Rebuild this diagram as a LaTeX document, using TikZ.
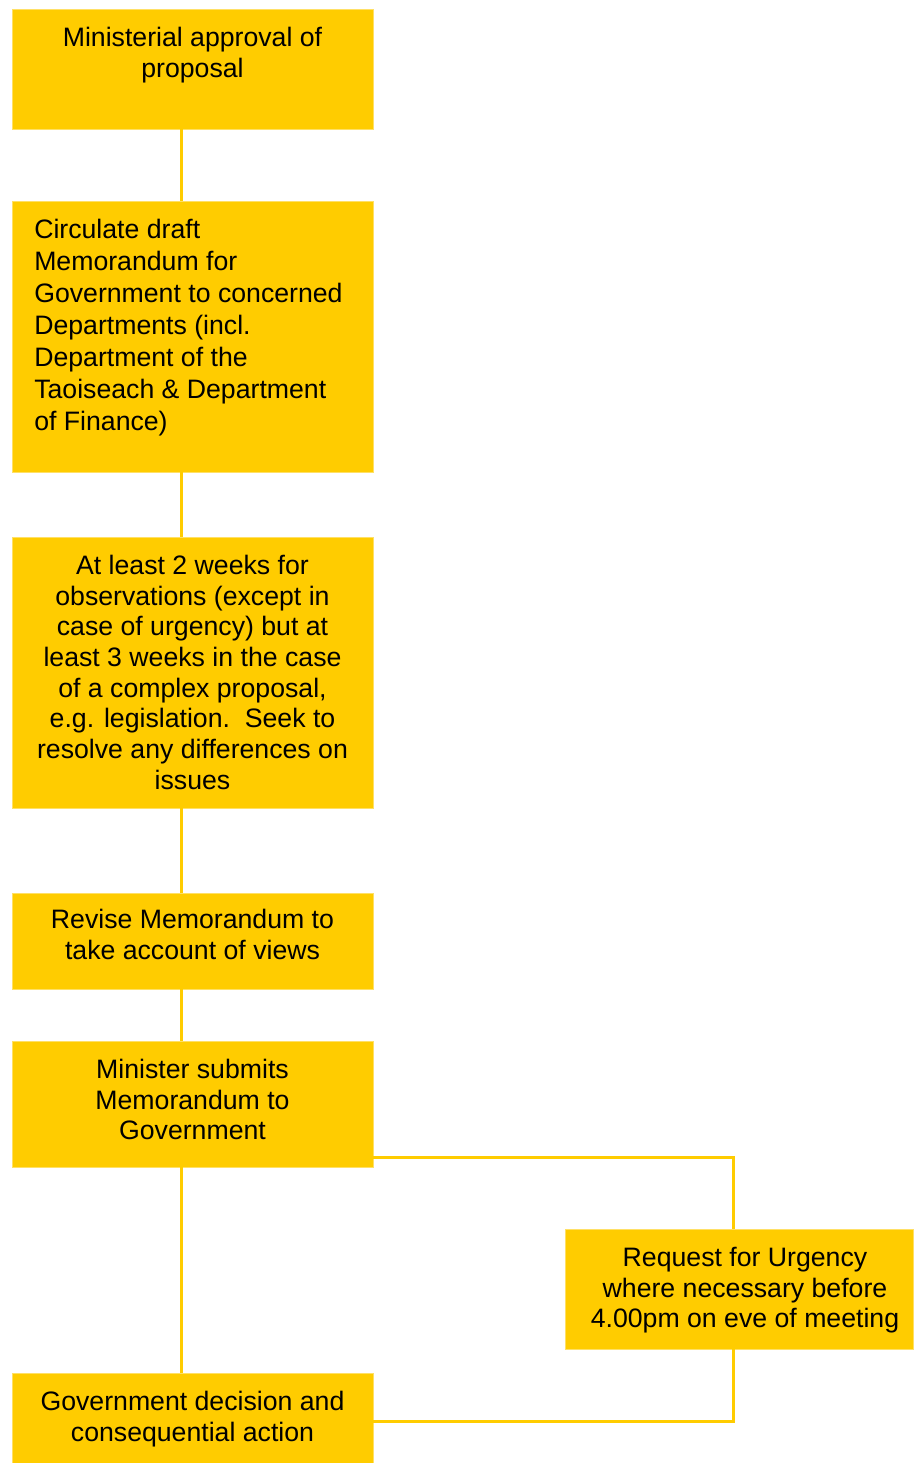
\documentclass[tikz,border=0pt]{standalone}
\usepackage{fontspec}
\setmainfont{Liberation Sans}
\usetikzlibrary{positioning,calc}
\definecolor{boxgold}{RGB}{255,204,0}

\tikzset{
  stepbox/.style={fill=boxgold, draw=boxgold!60, line width=0.4pt, minimum width=270.75pt, inner sep=0pt, outer sep=0pt},
  boxtext/.style={inner sep=0pt, align=center, font=\fontsize{20}{23}\selectfont},
  link/.style={draw=boxgold, line width=2.25pt}
}

\begin{document}
\begin{tikzpicture}[x=0.75pt, y=-0.75pt]
    \useasboundingbox (0,0) rectangle (914,1463);

    % Boxes of the main column
    \node[stepbox, minimum height=90pt] (approval) at (192.5,69) {};
    \node[stepbox, minimum height=203.25pt] (circulate) at (192.5,336.5) {};
    \node[stepbox, minimum height=203.25pt] (observe) at (192.5,672.5) {};
    \node[stepbox, minimum height=72pt] (revise) at (192.5,941) {};
    \node[stepbox, minimum height=94.5pt] (submit) at (192.5,1104) {};
    \node[stepbox, minimum height=67.5pt] (decision) at (192.5,1418) {};

    % Box on the right branch
    \node[stepbox, minimum width=261pt, minimum height=90pt] (urgency) at (739,1289) {};

    % Texts of the boxes
    \node[boxtext, below=13.5pt of approval.north] (approvaltext) {Ministerial approval of\\proposal};
    \node[boxtext, align=left, font=\fontsize{20}{24}\selectfont, below right=13.5pt and 16.5pt of circulate.north west] (circulatetext)
        {Circulate draft\\Memorandum for\\Government to concerned\\Departments (incl.\\Department of the\\Taoiseach \& Department\\of Finance)};
    \node[boxtext, below=13.5pt of observe.north] (observetext)
        {At least 2 weeks for\\observations (except in\\case of urgency) but at\\least 3 weeks in the case\\of a complex proposal,\\e.g. legislation.\ \ Seek to\\resolve any differences on\\issues};
    \node[boxtext, below=12pt of revise.north] (revisetext) {Revise Memorandum to\\take account of views};
    \node[boxtext, below=13.5pt of submit.north] (submittext) {Minister submits\\Memorandum to\\Government};
    \node[boxtext, below=13.5pt of urgency.north, xshift=4.5pt] (urgencytext)
        {Request for Urgency\\where necessary before\\4.00pm on eve of meeting};
    \node[boxtext, below=13.5pt of decision.north] (decisiontext) {Government decision and\\consequential action};

    % Connectors
    \coordinate (spine) at (181,0);
    \coordinate (toptee) at (733,1157);
    \coordinate (bottee) at (733,1421);

    \draw[link] (approval.south -| spine) -- (circulate.north -| spine);
    \draw[link] (circulate.south -| spine) -- (observe.north -| spine);
    \draw[link] (observe.south -| spine) -- (revise.north -| spine);
    \draw[link] (revise.south -| spine) -- (submit.north -| spine);
    \draw[link] (submit.south -| spine) -- (decision.north -| spine);

    \draw[link] (submit.east |- toptee) -- (toptee) -- (urgency.north -| toptee);
    \draw[link] (urgency.south -| bottee) -- (bottee) -- (decision.east |- bottee);
\end{tikzpicture}
\end{document}
